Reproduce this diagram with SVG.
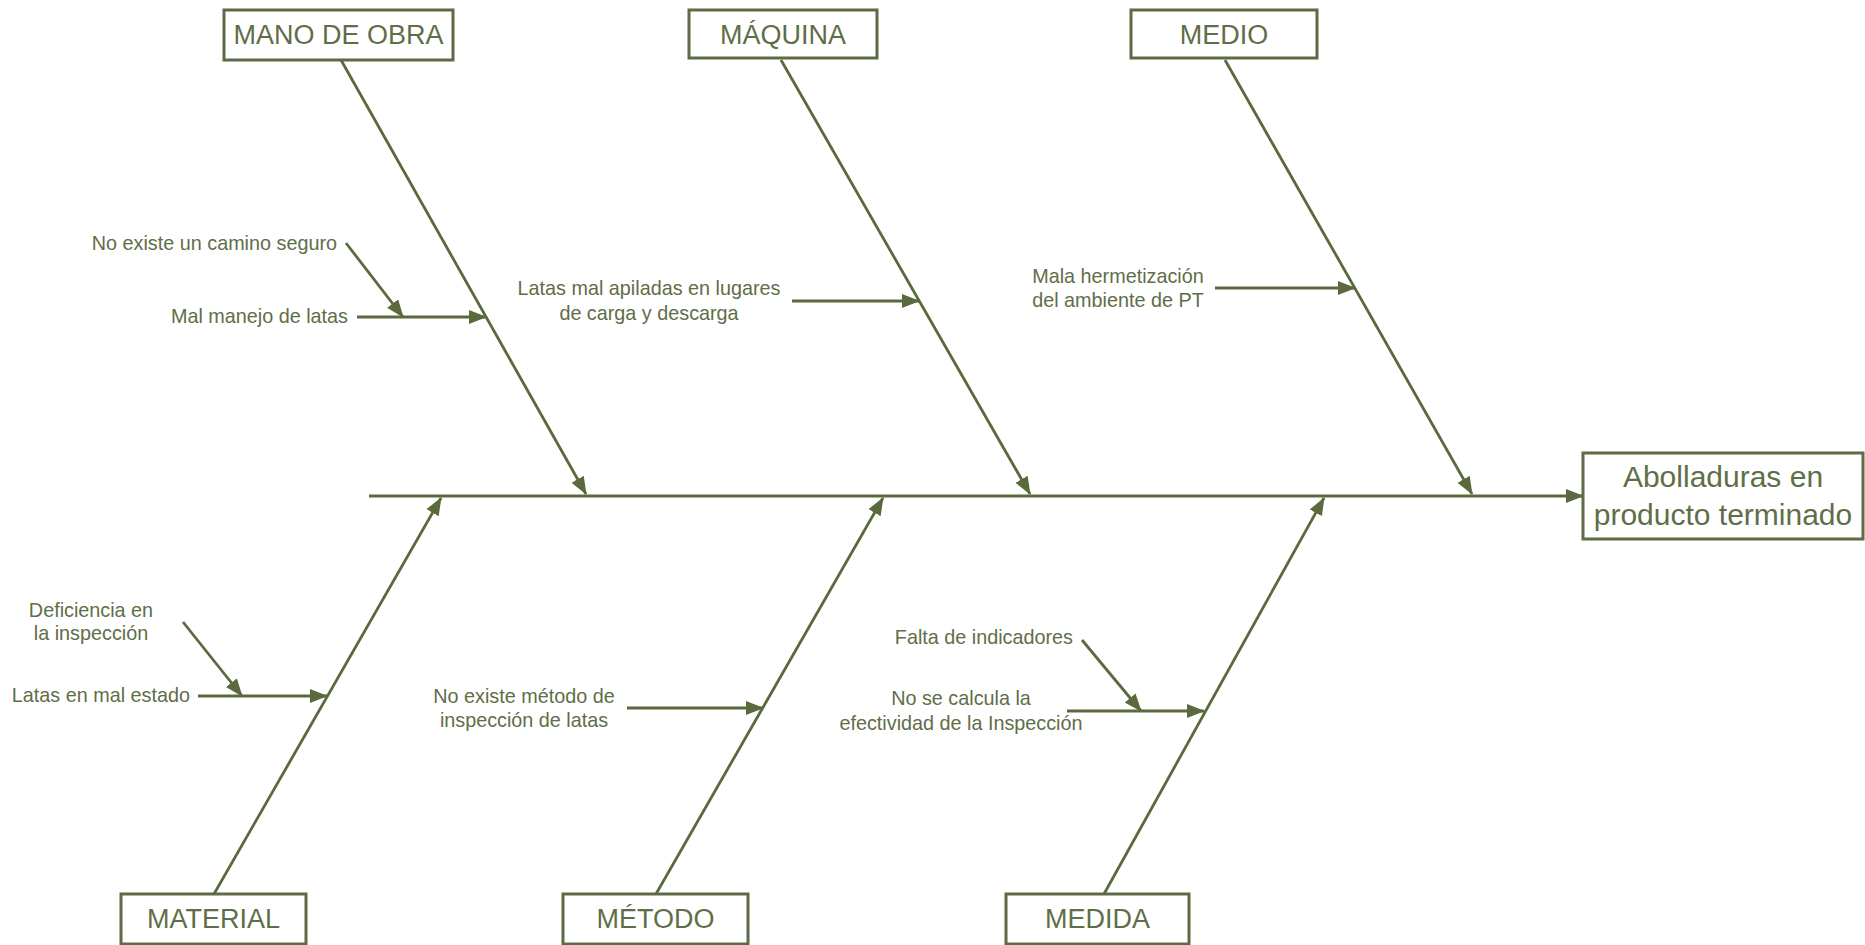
<svg xmlns="http://www.w3.org/2000/svg" width="1865" height="945" viewBox="0 0 1865 945">
<style>
.box{fill:#fff;stroke:#5d6b44;stroke-width:3}
.ln{stroke:#5a6a3d;stroke-width:2.8;fill:none}
.arr{stroke:#5a6a3d;stroke-width:2.8;fill:none;marker-end:url(#ah)}
.t{font-family:"Liberation Sans",Arial,sans-serif;fill:#606e47}
.cat{font-size:27px;text-anchor:middle}
.lab{font-size:19.8px}
.eff{font-size:30px;text-anchor:middle}
</style>
<defs>
<marker id="ah" markerUnits="userSpaceOnUse" markerWidth="18" markerHeight="16" refX="17" refY="7" orient="auto">
<path d="M0,0 L18,7 L0,14 z" fill="#5a6a3d"/>
</marker>
</defs>
<rect width="1865" height="945" fill="#fff"/>
<g id="connectors">
<line class="arr" x1="369" y1="496" x2="1583" y2="496"/>
<line class="arr" x1="341" y1="60" x2="586" y2="494"/>
<line class="arr" x1="781" y1="60" x2="1030" y2="494"/>
<line class="arr" x1="1225" y1="60" x2="1472" y2="494"/>
<line class="arr" x1="214" y1="894" x2="441" y2="498"/>
<line class="arr" x1="656" y1="894" x2="883" y2="498"/>
<line class="arr" x1="1104" y1="894" x2="1324" y2="498"/>
<line class="arr" x1="346" y1="243" x2="403" y2="317"/>
<line class="arr" x1="357" y1="317" x2="486" y2="317"/>
<line class="arr" x1="792" y1="301" x2="919" y2="301"/>
<line class="arr" x1="1215" y1="288" x2="1355" y2="288"/>
<line class="arr" x1="183" y1="622" x2="242" y2="696"/>
<line class="arr" x1="198" y1="696" x2="327" y2="696"/>
<line class="arr" x1="627" y1="708" x2="763" y2="708"/>
<line class="arr" x1="1082" y1="640" x2="1141" y2="711"/>
<line class="arr" x1="1067" y1="711" x2="1204" y2="711"/>
</g>
<g id="mano-de-obra"><rect class="box" x="224" y="10" width="229" height="50"/><text class="t cat" x="338.5" y="44">MANO DE OBRA</text></g>
<g id="maquina"><rect class="box" x="689" y="10" width="188" height="48"/><text class="t cat" x="783" y="44">MÁQUINA</text></g>
<g id="medio"><rect class="box" x="1131" y="10" width="186" height="48"/><text class="t cat" x="1224" y="44">MEDIO</text></g>
<g id="material"><rect class="box" x="121" y="894" width="185" height="50"/><text class="t cat" x="213.5" y="928">MATERIAL</text></g>
<g id="metodo"><rect class="box" x="563" y="894" width="185" height="50"/><text class="t cat" x="655.5" y="928">MÉTODO</text></g>
<g id="medida"><rect class="box" x="1006" y="894" width="183" height="50"/><text class="t cat" x="1097.5" y="928">MEDIDA</text></g>
<g id="efecto"><rect class="box" x="1583" y="453" width="280" height="86"/><text class="t eff" x="1723" y="487">Abolladuras en</text><text class="t eff" x="1723" y="525">producto terminado</text></g>
<g id="causa-camino"><text class="t lab" x="337" y="250" text-anchor="end">No existe un camino seguro</text></g>
<g id="causa-manejo"><text class="t lab" x="348" y="323" text-anchor="end">Mal manejo de latas</text></g>
<g id="causa-apiladas"><text class="t lab" x="649" y="295" text-anchor="middle">Latas mal apiladas en lugares</text><text class="t lab" x="649" y="320" text-anchor="middle">de carga y descarga</text></g>
<g id="causa-hermetizacion"><text class="t lab" x="1118" y="283" text-anchor="middle">Mala hermetización</text><text class="t lab" x="1118" y="307" text-anchor="middle">del ambiente de PT</text></g>
<g id="causa-deficiencia"><text class="t lab" x="91" y="617" text-anchor="middle">Deficiencia en</text><text class="t lab" x="91" y="640" text-anchor="middle">la inspección</text></g>
<g id="causa-latas-estado"><text class="t lab" x="190" y="702" text-anchor="end">Latas en mal estado</text></g>
<g id="causa-metodo"><text class="t lab" x="524" y="703" text-anchor="middle">No existe método de</text><text class="t lab" x="524" y="727" text-anchor="middle">inspección de latas</text></g>
<g id="causa-indicadores"><text class="t lab" x="1073" y="644" text-anchor="end">Falta de indicadores</text></g>
<g id="causa-efectividad"><text class="t lab" x="961" y="705" text-anchor="middle">No se calcula la</text><text class="t lab" x="961" y="730" text-anchor="middle">efectividad de la Inspección</text></g>
</svg>
